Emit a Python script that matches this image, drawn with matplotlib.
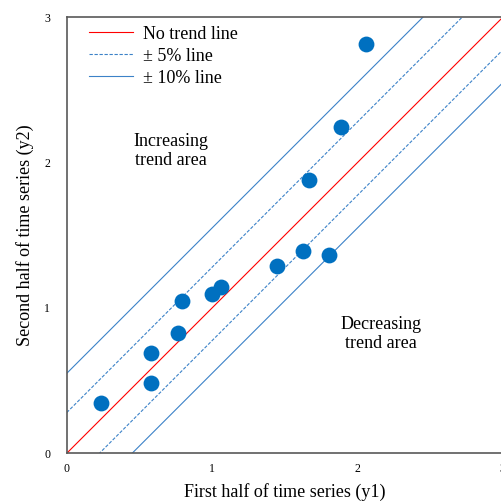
import matplotlib
matplotlib.use("Agg")
import matplotlib.pyplot as plt
import numpy as np

plt.rcParams['font.family'] = ['Liberation Serif', 'DejaVu Serif']

# Data
y1 = [0.235, 0.582, 0.582, 0.765, 0.795, 1.0, 1.062, 1.449, 1.627, 1.668, 1.803, 1.886, 2.06]
y2 = [0.344, 0.482, 0.688, 0.826, 1.05, 1.094, 1.142, 1.289, 1.394, 1.882, 1.365, 2.244, 2.817]

line_x = [0, 3]
offsets_5 = [0.28, -0.225]
offsets_10 = [0.55, -0.45]

ticks = [0, 1, 2, 3]

fig = plt.figure(figsize=(5.02, 5.04), dpi=100)
ax = fig.add_axes([0.1329, 0.1006, 0.8685, 0.865])

blue_line = '#3C82C8'
ax.plot(line_x, line_x, color='#FF0000', lw=0.8, label='No trend line', zorder=2)
for i, o in enumerate(offsets_5):
    ax.plot(line_x, [v + o for v in line_x], color=blue_line, lw=0.8, ls=(0, (3, 1.5)),
            label='± 5% line' if i == 0 else None, zorder=2)
for i, o in enumerate(offsets_10):
    ax.plot(line_x, [v + o for v in line_x], color=blue_line, lw=0.8,
            label='± 10% line' if i == 0 else None, zorder=2)

ax.scatter(y1, y2, s=130, color='#0070C0', zorder=3, linewidths=0)

ax.set_xlim(0, 3)
ax.set_ylim(0, 3)
ax.set_xticks(ticks)
ax.set_yticks(ticks)
ax.tick_params(length=0, labelsize=8.5)
ax.tick_params(axis='y', pad=12)
ax.tick_params(axis='x', pad=7)
for s in ax.spines.values():
    s.set_color('#595959')
    s.set_linewidth(1.2)

ax.set_xlabel('First half of time series (y1)', fontsize=13, labelpad=6)
ax.set_ylabel('Second half of time series (y2)', fontsize=13, labelpad=7)

ax.text(0.72, 2.08, 'Increasing\ntrend area', fontsize=13, ha='center', va='center', linespacing=1.15)
ax.text(2.16, 0.82, 'Decreasing\ntrend area', fontsize=13, ha='center', va='center', linespacing=1.15)

leg = ax.legend(loc='upper left', frameon=False, fontsize=13, handlelength=2.45,
                handletextpad=0.55, borderaxespad=0.0, borderpad=0.3,
                labelspacing=0.27, bbox_to_anchor=(0.038, 0.993))

fig.savefig('out.png', dpi=100)
